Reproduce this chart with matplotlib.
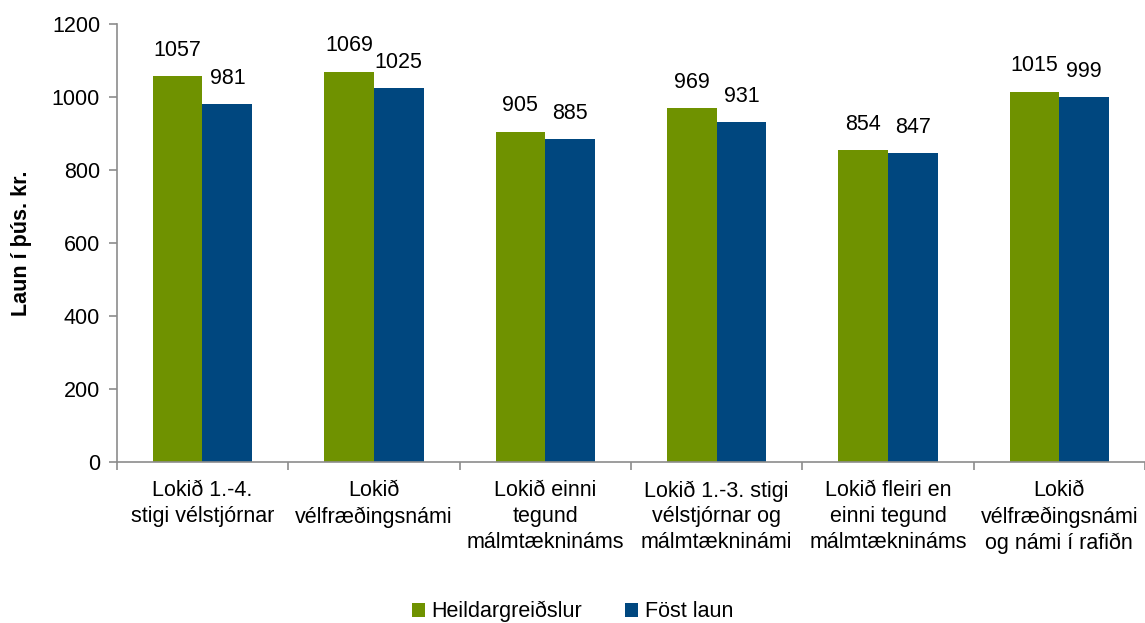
import matplotlib.pyplot as plt
import numpy as np

plt.rcParams['font.family'] = ['Liberation Sans', 'DejaVu Sans']
fs = 15.5

categories = ["Lokið 1.-4.\nstigi vélstjórnar",
              "Lokið\nvélfræðingsnámi",
              "Lokið einni\ntegund\nmálmtæknináms",
              "Lokið 1.-3. stigi\nvélstjórnar og\nmálmtækninámi",
              "Lokið fleiri en\neinni tegund\nmálmtæknináms",
              "Lokið\nvélfræðingsnámi\nog námi í rafiðn"]
heild = [1057, 1069, 905, 969, 854, 1015]
fost = [981, 1025, 885, 931, 847, 999]

green = "#6f9200"
blue = "#00477f"
grey = "#8c8c8c"

fig = plt.figure(figsize=(11.45, 6.23), dpi=100)
ax = fig.add_axes([0.102, 0.258, 0.898, 0.7035])

x = np.arange(len(categories))
w = 0.29
b1 = ax.bar(x - w / 2, heild, w, color=green, label="Heildargreiðslur")
b2 = ax.bar(x + w / 2, fost, w, color=blue, label="Föst laun")

for bars in (b1, b2):
    for r in bars:
        ax.text(r.get_x() + r.get_width() / 2, r.get_height() + 42, str(int(r.get_height())),
                ha="center", va="bottom", fontsize=fs)

ax.set_xlim(-0.5, len(categories) - 0.5)
ax.set_ylim(0, 1200)
ax.set_yticks(range(0, 1201, 200))
ax.set_ylabel("Laun í þús. kr.", fontsize=fs, fontweight="bold", labelpad=14)

ax.set_xticks(np.arange(-0.5, len(categories), 1))
ax.set_xticklabels([])
ax.set_xticks(x, minor=True)
ax.set_xticklabels(categories, minor=True, fontsize=fs, linespacing=1.3)
ax.tick_params(axis="x", which="minor", length=0, pad=13)
ax.tick_params(axis="x", which="major", length=6, color=grey, width=1.2)
ax.tick_params(axis="y", length=6, color=grey, width=1.2, labelsize=fs, pad=6)

for s in ("top", "right"):
    ax.spines[s].set_visible(False)
for s in ("left", "bottom"):
    ax.spines[s].set_color(grey)
    ax.spines[s].set_linewidth(1.2)

fig.legend(handles=[b1, b2], loc="lower center", bbox_to_anchor=(0.5, -0.03), ncol=2,
           frameon=False, fontsize=fs, handlelength=0.6, handleheight=0.6,
           handletextpad=0.3, columnspacing=2.0)

fig.savefig("out.png", dpi=100)
